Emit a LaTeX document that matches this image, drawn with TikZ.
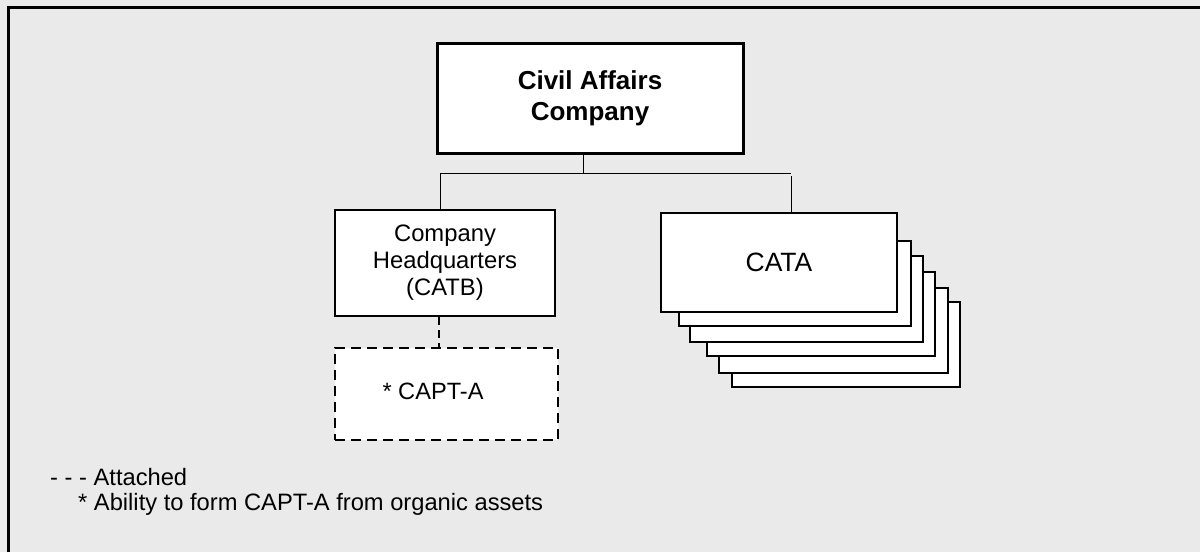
\documentclass[tikz,border=0pt]{standalone}
\usepackage{fontspec}
\setmainfont{Liberation Sans}
\definecolor{panel}{HTML}{EAEAEA}
\begin{document}
\begin{tikzpicture}[x=1pt,y=-1pt,
  box/.style={draw=black, fill=white, line width=2.5pt, inner sep=0pt, align=center},
  headbox/.style={box, line width=3pt, font=\fontsize{26}{31}\selectfont\bfseries},
  unitbox/.style={box, font=\fontsize{23.8}{27}\selectfont},
  sheet/.style={box},
  attbox/.style={box, dash pattern=on 10pt off 6pt},
  conn/.style={draw=black, line width=1pt},
  attline/.style={draw=black, line width=2pt, dash pattern=on 8pt off 5pt},
  legend/.style={anchor=base west, inner sep=0pt, font=\fontsize{23.7}{27}\selectfont}]

% background panel and frame
\useasboundingbox (0,0) rectangle (1200,552);
\fill[panel] (0,0) rectangle (1200,552);
\draw[line width=3pt] (8,552) -- (8,7) -- (1200,7);

% company
\node[headbox, minimum width=306pt, minimum height=110pt] (co) at (590,98) {Civil Affairs\\Company};

% headquarters
\node[unitbox, minimum width=220pt, minimum height=106pt] (hq) at (445,263) {Company\\Headquarters\\(CATB)};

% attached team
\node[attbox, minimum width=223pt, minimum height=92pt] (capt) at (446.5,394) {};
\node[inner sep=0pt, font=\fontsize{23.6}{27}\selectfont] (captlbl) at (433,391) {* CAPT-A};

% stacked CATA sheets, rearmost first
\node[sheet, minimum width=228pt, minimum height=85pt] (s5) at (846,344.5) {};
\node[sheet, minimum width=229pt, minimum height=85pt] (s4) at (833.5,330.5) {};
\node[sheet, minimum width=228pt, minimum height=84pt] (s3) at (821,314) {};
\node[sheet, minimum width=233pt, minimum height=86pt] (s2) at (806.5,299) {};
\node[sheet, minimum width=232pt, minimum height=85pt] (s1) at (795,283.5) {};
\node[box, minimum width=236pt, minimum height=99pt, font=\fontsize{26.5}{30}\selectfont] (cata) at (779,262.5) {CATA};

% branch lines
\coordinate (jT) at (583,173);
\coordinate (jL) at (440,173);
\coordinate (jR) at (791,173);
\coordinate (att) at (439,330);
\draw[conn] (co.south -| jT) -- (jT);
\draw[conn] (jL) -- (jR);
\draw[conn] (jL) -- (jL |- hq.north);
\draw[conn] ([yshift=-3pt]jR) -- (jR |- cata.north);
\draw[attline] (hq.south -| att) -- (att |- capt.north);

% legend
\node[legend] (leg1) at (50,485) {- - - Attached};
\node[legend] (leg2) at (78,510) {* Ability to form CAPT-A from organic assets};
\end{tikzpicture}
\end{document}
